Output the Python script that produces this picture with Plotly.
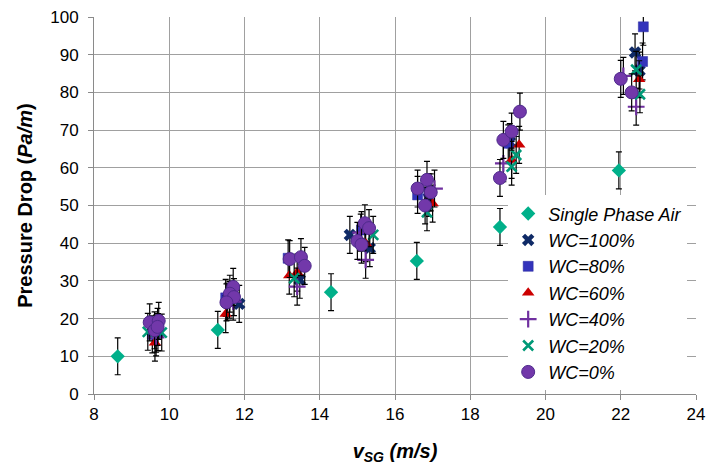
import plotly.graph_objects as go

# Superficial gas velocity (m/s) and pressure drop (Pa/m) per water cut
air_x = [8.63, 11.29, 14.30, 16.58, 18.79, 21.95]
air_y = [10.0, 17.0, 27.0, 35.3, 44.3, 59.3]

wc100_x = [9.65, 11.86, 13.47, 14.80, 15.33, 16.90, 19.05, 22.38, 22.50]
wc100_y = [16.0, 23.9, 30.3, 42.2, 38.7, 52.0, 66.8, 90.6, 85.8]

wc80_x = [9.55, 9.70, 11.50, 11.55, 13.16, 15.11, 16.60, 16.90, 19.01, 22.60, 22.58]
wc80_y = [15.8, 16.4, 25.5, 24.5, 36.0, 43.5, 52.8, 53.5, 66.5, 97.4, 88.2]

wc60_x = [9.62, 11.50, 13.19, 13.40, 15.22, 17.00, 19.30, 19.10, 22.49]
wc60_y = [13.6, 21.2, 31.4, 32.2, 40.0, 50.5, 66.1, 62.1, 83.5]

wc40_x = [9.65, 11.70, 13.40, 15.09, 15.22, 17.05, 18.88, 22.07, 22.41]
wc40_y = [15.0, 24.5, 28.5, 42.8, 35.6, 54.5, 61.2, 84.4, 76.2]

wc20_x = [9.43, 9.80, 11.60, 13.32, 15.42, 16.85, 19.22, 19.10, 22.41, 22.51]
wc20_y = [16.5, 16.3, 25.0, 30.7, 42.2, 48.2, 63.4, 60.3, 86.0, 79.5]

wc0_x = [9.48, 9.72, 9.61, 9.69, 11.70, 11.61, 11.72, 11.52, 13.20, 13.50, 13.60,
         15.20, 15.31, 15.00, 15.11, 16.85, 16.60, 16.80, 16.95,
         18.88, 19.10, 18.79, 19.32, 22.00, 22.29]
wc0_y = [19.0, 19.4, 16.9, 17.8, 28.4, 26.6, 25.7, 24.3, 35.8, 36.3, 34.0,
         45.3, 44.0, 40.6, 39.6, 56.8, 54.5, 50.0, 53.5,
         67.4, 69.6, 57.3, 74.9, 83.6, 80.0]

# Measurement uncertainty (Pa/m)
ERR = 4.9

x_ticks = [8, 10, 12, 14, 16, 18, 20, 22, 24]
y_ticks = [0, 10, 20, 30, 40, 50, 60, 70, 80, 90, 100]

FONT = "Liberation Sans, Arial, sans-serif"

series = [
    ("Single Phase Air", air_x, air_y,
     dict(symbol="diamond", size=11, color="#00B08A")),
    ("WC=100%", wc100_x, wc100_y,
     dict(symbol="x", size=11, color="#0F2A66")),
    ("WC=80%", wc80_x, wc80_y,
     dict(symbol="square", size=10, color="#3333BB", line=dict(color="#2A2A9E", width=0.5))),
    ("WC=60%", wc60_x, wc60_y,
     dict(symbol="triangle-up", size=11, color="#CC0000")),
    ("WC=40%", wc40_x, wc40_y,
     dict(symbol="cross-thin", size=12, color="#7030A0", line=dict(color="#7030A0", width=2.2))),
    ("WC=20%", wc20_x, wc20_y,
     dict(symbol="x-thin", size=10, color="#009977", line=dict(color="#009977", width=2.6))),
    ("WC=0%", wc0_x, wc0_y,
     dict(symbol="circle", size=13, color="#7238AA", line=dict(color="#4E2A8C", width=1))),
]

fig = go.Figure()
for name, xs, ys, marker in series:
    fig.add_trace(go.Scatter(
        x=xs, y=ys, mode="markers", name=name, marker=marker,
        error_y=dict(type="constant", value=ERR, color="black",
                     thickness=1.2, width=3),
    ))

axis_common = dict(
    showgrid=True, gridcolor="#A0A0A0", gridwidth=1,
    showline=True, linecolor="#8A8A8A", linewidth=1,
    ticks="outside", ticklen=5, tickcolor="#8A8A8A",
    tickfont=dict(family=FONT, size=17, color="black"),
    zeroline=False,
)

fig.update_layout(
    width=707, height=466,
    margin=dict(l=94, r=11, t=17, b=72, autoexpand=False),
    paper_bgcolor="white", plot_bgcolor="white",
    font=dict(family=FONT, color="black"),
    xaxis=dict(range=[8, 24], tickvals=x_ticks, ticktext=[str(v) for v in x_ticks],
               title=dict(text="<b><i>v<sub>SG</sub> (m/s)</i></b>",
                          font=dict(family=FONT, size=20), standoff=20),
               **axis_common),
    yaxis=dict(range=[0, 100], tickvals=y_ticks, ticktext=[str(v) for v in y_ticks],
               ticklabelstandoff=6,
               title=dict(text="<b>Pressure Drop (<i>Pa/m</i>)</b>",
                          font=dict(family=FONT, size=20), standoff=12),
               **axis_common),
    legend=dict(x=0.688, y=0.527, xanchor="left", yanchor="top",
                bgcolor="white", borderwidth=0,
                font=dict(family=FONT, size=18, style="italic"),
                tracegroupgap=0, itemwidth=30),
    showlegend=True,
)

fig.write_html("out.html")
